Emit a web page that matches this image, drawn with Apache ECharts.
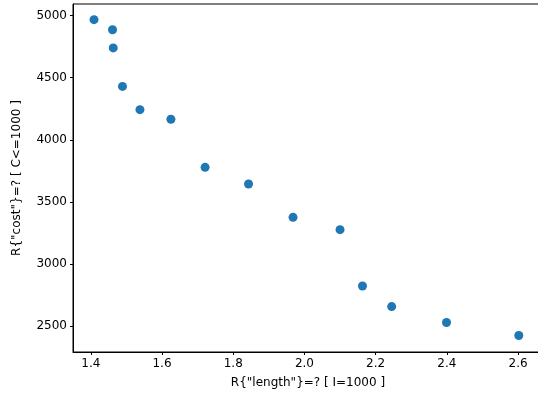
<!DOCTYPE html>
<html>
<head>
<meta charset="utf-8">
<script src="https://cdn.jsdelivr.net/npm/echarts@6/dist/echarts.min.js"></script>
<style>
  html, body { margin: 0; padding: 0; background: #fff; }
  #chart { width: 538px; height: 396px; }
</style>
</head>
<body>
<div id="chart"></div>
<script>
// values
const lengthVals = [1.409, 1.461, 1.463, 1.489, 1.538, 1.625, 1.721, 1.843, 1.968, 2.100, 2.163, 2.245, 2.399, 2.602]
const costVals = [4966, 4885, 4739, 4429, 4242, 4165, 3778, 3644, 3376, 3277, 2824, 2658, 2530, 2426]
const xTicks = [1.4, 1.6, 1.8, 2.0, 2.2, 2.4, 2.6]
const yTicks = [2500, 3000, 3500, 4000, 4500, 5000]

const chart = echarts.init(document.getElementById('chart'))
const font = 'DejaVu Sans'

chart.setOption({
  animation: false,
  grid: {
    left: 73, top: 4, width: 470, height: 348,
    outerBoundsMode: 'none',
    show: true, borderColor: '#000', borderWidth: 1
  },
  xAxis: {
    type: 'value',
    min: 1.35,
    max: 2.67,
    name: 'R{"length"}=? [ I=1000 ]',
    nameLocation: 'middle',
    nameGap: 25,
    nameTextStyle: { color: '#000', fontSize: 12, fontFamily: font },
    axisLine: { show: true, onZero: false, lineStyle: { color: '#000', width: 1 } },
    axisTick: { show: true, length: 3, lineStyle: { color: '#000' }, customValues: xTicks },
    axisLabel: {
      color: '#000', fontSize: 12, fontFamily: font, margin: 6,
      customValues: xTicks,
      formatter: v => v.toFixed(1)
    },
    splitLine: { show: false }
  },
  yAxis: {
    type: 'value',
    min: 2293,
    max: 5092,
    name: 'R{"cost"}=? [ C<=1000 ]',
    nameLocation: 'middle',
    nameRotate: 90,
    nameGap: 50,
    nameTextStyle: { color: '#000', fontSize: 12, fontFamily: font },
    axisLine: { show: true, onZero: false, lineStyle: { color: '#000', width: 1 } },
    axisTick: { show: true, length: 3, lineStyle: { color: '#000' }, customValues: yTicks },
    axisLabel: {
      color: '#000', fontSize: 12, fontFamily: font, margin: 6,
      customValues: yTicks,
      formatter: v => String(v)
    },
    splitLine: { show: false }
  },
  series: [
    {
      type: 'scatter',
      data: lengthVals.map((x, i) => [x, costVals[i]]),
      symbolSize: 9,
      itemStyle: { color: '#1f77b4', opacity: 1 }
    }
  ]
})
</script>
</body>
</html>
